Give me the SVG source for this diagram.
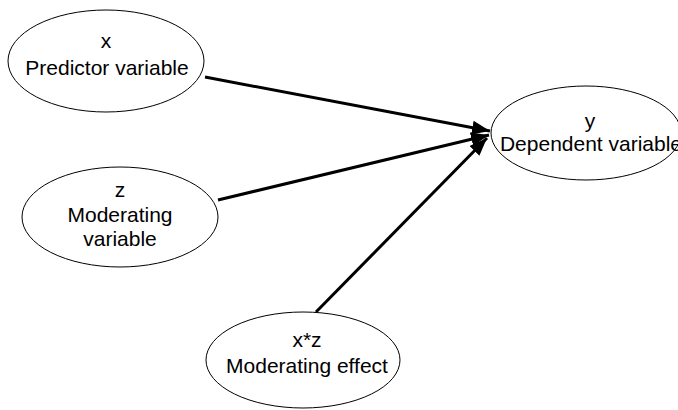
<svg xmlns="http://www.w3.org/2000/svg" width="678" height="410" viewBox="0 0 678 410">
  <style>
    .node ellipse { fill: #ffffff; stroke: #000000; stroke-width: 1; }
    .node text { font-family: "Liberation Sans", Arial, sans-serif; font-size: 21px; fill: #000000; text-anchor: middle; }
    .edge { stroke: #000000; stroke-width: 3; fill: none; marker-end: url(#arrow); }
  </style>
  <defs>
    <marker id="arrow" markerUnits="userSpaceOnUse" markerWidth="20" markerHeight="16" refX="18" refY="7" orient="auto">
      <path d="M0,0 L18,7 L0,14 Z" fill="#000000"/>
    </marker>
  </defs>
  <rect width="678" height="410" fill="#ffffff"/>

  <g id="connectors">
    <line class="edge" x1="205" y1="77" x2="490" y2="131"/>
    <line class="edge" x1="218" y1="200" x2="489" y2="135"/>
    <line class="edge" x1="316" y1="312" x2="487" y2="138"/>
  </g>

  <g id="node-x" class="node">
    <ellipse cx="106" cy="61" rx="98" ry="51"/>
    <text x="106" y="48">x</text>
    <text x="107" y="75">Predictor variable</text>
  </g>

  <g id="node-y" class="node">
    <ellipse cx="586" cy="133" rx="95" ry="47"/>
    <text x="590" y="128">y</text>
    <text x="591" y="151">Dependent variable</text>
  </g>

  <g id="node-z" class="node">
    <ellipse cx="120" cy="217" rx="98" ry="50"/>
    <text x="120" y="197">z</text>
    <text x="120" y="222">Moderating</text>
    <text x="120" y="246">variable</text>
  </g>

  <g id="node-xz" class="node">
    <ellipse cx="303" cy="360" rx="97" ry="48"/>
    <text x="307" y="347">x*z</text>
    <text x="307" y="373">Moderating effect</text>
  </g>
</svg>
